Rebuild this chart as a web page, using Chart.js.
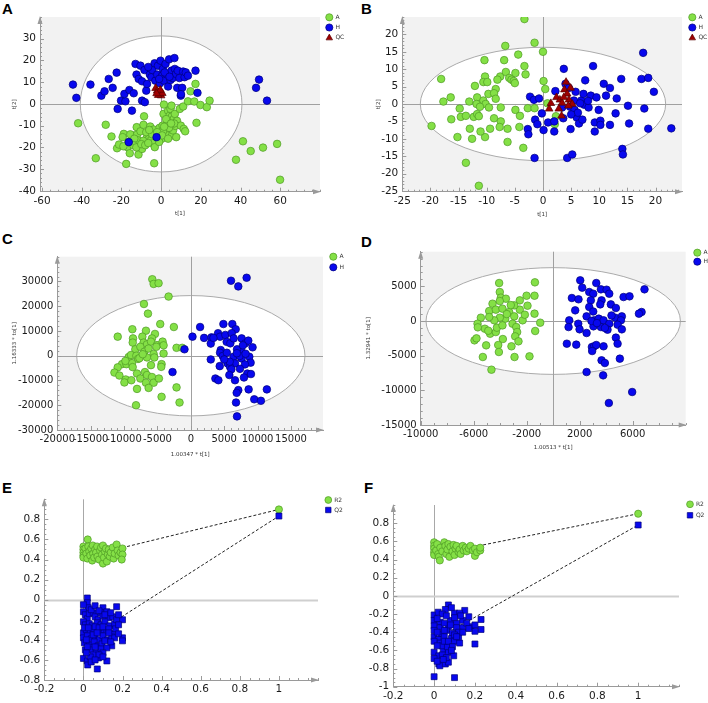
<!DOCTYPE html>
<html><head><meta charset="utf-8">
<script src="https://cdn.jsdelivr.net/npm/chart.js@4.4.1/dist/chart.umd.min.js"></script>
<style>
html,body{margin:0;padding:0;background:#fff}
body{position:relative;width:708px;height:703px;overflow:hidden}
.letter{position:absolute;font:bold 15px "Liberation Sans",Arial,sans-serif;line-height:15px;color:#000}
canvas{position:absolute}
</style></head><body>
<div class="letter" style="left:2px;top:1px">A</div>
<div class="letter" style="left:361px;top:1px">B</div>
<div class="letter" style="left:2px;top:231px">C</div>
<div class="letter" style="left:361px;top:234px">D</div>
<div class="letter" style="left:2px;top:480px">E</div>
<div class="letter" style="left:364px;top:480px">F</div>
<canvas id="cA" width="354" height="222" style="left:0;top:0"></canvas>
<canvas id="cB" width="354" height="222" style="left:354px;top:0"></canvas>
<canvas id="cC" width="354" height="238" style="left:0;top:222px"></canvas>
<canvas id="cD" width="354" height="238" style="left:354px;top:222px"></canvas>
<canvas id="cE" width="354" height="243" style="left:0;top:460px"></canvas>
<canvas id="cF" width="354" height="243" style="left:354px;top:460px"></canvas>
<script>
// ---------- Panel A : PCA scores (A, H, QC) ----------
const xTicksA = [-60,-40,-20,0,20,40,60];
const yTicksA = [-40,-30,-20,-10,0,10,20,30];
const ellipseA = [40.7, 31.3];
const scoresA_A = [[-41.8,-8.9],[-32.9,-25],[-27.9,-9.6],[-25,-15],[-22.2,-20.4],[-21.2,-18.7],[-18.8,-13.8],[-19.4,-15.3],[-17.6,-27.6],[-17,-19.9],[-16.5,-17.5],[-15.8,-22.7],[-14.5,-14.5],[-15.5,-14],[-12.3,-10.7],[-12.1,-14.1],[-11.6,-16.8],[-11.4,-23.3],[-10.4,-12.6],[-9.6,-20.7],[-8.9,-9.6],[-8.6,-5.7],[-7.1,-15.3],[-6.1,-16],[-5.5,-10.4],[-5,-16.5],[-4.2,-18.1],[-3.7,-11.8],[-3.5,-27.3],[-3.2,-19.9],[-2.8,-14.5],[-1.8,-15.7],[-0.8,-11],[-0.3,-13.3],[0.2,-16.1],[0.7,-10],[1.2,-4.6],[1.4,-0.3],[2,-13.3],[2.9,-14.5],[3,-9.9],[3.5,-3.1],[4.2,-5.5],[4.7,-2.3],[5.2,-0.8],[5.4,-5.8],[5.5,-14.5],[6,-12.2],[6.4,-6.9],[6.9,-4.6],[7.2,-10.1],[7.6,-15.3],[8,-7.8],[9.4,-2.3],[9.9,-10],[11.1,-1.2],[11.4,-11.5],[12.1,-12.6],[13.5,1.2],[14.8,5.8],[16.7,1.1],[17.3,9.2],[17.8,-8.7],[19.8,-0.5],[23,-1.5],[24.4,1.5],[37.7,-25.7],[41.2,-17.2],[45.1,-21.7],[51.3,-20.1],[58.4,-18.4],[59.9,-34.9],[-13.5,-16],[-9,-17],[-7.5,-13],[-1,-17.5],[1,-12.5],[4,-11],[-19,-19.5],[2.5,-7],[6.5,-9],[-14,-19],[-12.5,-20],[-10,-18.5],[-8,-19],[-6.5,-18],[-4.5,-14],[-2,-13],[0.5,-14.5],[3.5,-16],[5,-9],[1.5,-10.5],[-6,-12]];
const scoresA_H = [[-44.4,8.9],[-42.7,2.8],[-35.6,8.9],[-30.1,3.8],[-28.5,5.8],[-26.4,11.5],[-24.4,7.4],[-22.4,14.4],[-21.9,-2.3],[-20.2,1.5],[-18,1.2],[-18.5,4.6],[-16.3,-17.6],[-16,6.4],[-14.7,-3.1],[-13.8,4.9],[-12.9,18.4],[-12.4,13.5],[-11.3,11.5],[-10.4,17.6],[-9.6,10.4],[-9.6,1.5],[-8.4,15.6],[-8.2,0.8],[-7.5,6.1],[-7.1,9.2],[-5.7,13.5],[-4.9,12.3],[-4.4,15.6],[-3.3,18.7],[-2.3,-15.3],[-2.9,10.7],[-2,13.5],[-1.6,17.6],[-0.6,9.5],[-0.3,19.9],[0.5,13],[0.9,16.1],[1.4,10.7],[2.2,18.4],[3,13.5],[3.5,8],[4,20.5],[4.7,11],[5.2,15.3],[5.9,11.9],[6.7,21.1],[6.9,16.1],[7.5,13.8],[8.1,7.4],[8.4,15.3],[9.2,11.9],[9.9,3.8],[10.6,7.4],[11.1,14.9],[11.8,12.3],[12.4,14.5],[13.5,13],[17.3,15.3],[18.3,5.1],[47.8,7.4],[49.3,11.2],[53.3,1.5],[-6.5,17],[1.8,14.5],[-1,11.5],[4.2,12.5],[10,4.5]];
const scoresA_QC = [[-2.8,7.2],[-2,6],[-1.2,5.3],[-0.5,4.6],[0,3.8],[-1.5,4],[0.6,4.9],[-0.4,6.4],[-2.3,4.8]];

// ---------- Panel B : PCA scores (A, H, QC) ----------
const xTicksB = [-25,-20,-15,-10,-5,0,5,10,15,20];
const yTicksB = [-25,-20,-15,-10,-5,0,5,10,15,20];
const ellipseB = [21.8, 16.3];
const scoresB_A = [[-3.3,24.4],[-6.7,16.7],[-1.5,17.6],[-4.4,14.2],[0,15],[-10.4,12.6],[-6.9,12.6],[-3.3,10.9],[-3.1,8.5],[-18.1,7.2],[-10.3,7.9],[-7.6,7.9],[-6.6,9.2],[-4.9,8.9],[-6,7.5],[-5.6,7],[-5.2,6.6],[-5,6],[-10.6,6.3],[-9.9,6.3],[-8.1,7],[-8.4,4.3],[-12.1,5.2],[-16.4,1.9],[-17.7,0.7],[-13.1,0.7],[-11.7,1.9],[-10.6,1],[-10.2,0],[-9.7,2.9],[-8.7,3.1],[-8.4,1.5],[-11.8,0],[-11.2,-0.8],[-9.6,-1],[-7.5,-1],[-14.8,-1.3],[-14.6,-3.7],[-13.7,-3.4],[-12.3,-3.7],[-11.7,-2.9],[-11.4,-3.5],[-16.3,-4.4],[-8.7,-4.1],[-7.5,-5],[-7.7,-6.6],[-4.2,-6.6],[-13,-7.1],[-9.4,-7.1],[-6.3,-7.1],[-19.8,-6.3],[-15.2,-9.5],[-12.6,-10],[-10.3,-9.5],[-11.1,-7.9],[-6.3,-10.9],[-3.5,-12.6],[-13.7,-16.9],[-11.4,-23.5],[-4.9,-1.7],[-4.1,-3.4],[-2.7,-1.2],[-1.5,-1.2],[0.1,6.6],[0.4,4.3],[0.8,0.2],[2.1,-5.8],[2.3,-3.5]];
const scoresB_H = [[-2.3,2.1],[-1.6,1.2],[-0.7,1.6],[-0.2,-2.7],[-1.4,-4.5],[-2.7,-7.2],[-2.6,-8.7],[-1.5,-15.5],[-1,-5.8],[0.1,-7.5],[0.9,-5.3],[2,-7.9],[2,-5],[2.2,3.7],[3.7,10.1],[3.4,-1],[3.6,-4.1],[4.3,-15.5],[5.2,-14.5],[4.9,-7.2],[4,5.8],[4.6,4.6],[4.8,-0.8],[5.5,1],[5.6,-1.7],[6,-3.9],[6.4,-5.6],[6.8,1],[7.2,2.9],[7.3,-0.2],[7.5,6.8],[8.1,-1],[8.5,2.4],[8.9,10.9],[9.2,-5.3],[9.2,-7.9],[9.5,1.9],[9.9,-1.7],[10.2,-4.8],[10.2,-6],[10.8,5.8],[11.2,2.4],[11.9,4.6],[11.9,-6],[12.9,-2.7],[13.1,1.6],[13.9,7.2],[14.1,-12.9],[14.2,-14.5],[15.1,-0.5],[15.3,-5.6],[17.5,7.2],[17.8,14.7],[18,-1.3],[18.7,7.5],[18.7,-7.1],[19.7,3.5],[22.8,-7],[6.2,-2.5],[7,-4.5],[5.8,3.5],[6.6,0.2],[8,0.9],[5,-3]];
const scoresB_QC = [[1.1,-1.4],[1.4,0.2],[2.4,1.9],[2.8,-1.4],[3.3,-3.4],[3,1.2],[3.4,0.3],[3.8,4.1],[4.1,6.3],[4.3,2.9],[4.6,1.2],[4.9,4.6],[5.2,0],[3.7,1.9],[4.5,-0.5]];

// ---------- Panel C : OPLS-DA scores (A, H) ----------
const xTicksC = [-20000,-15000,-10000,-5000,0,5000,10000,15000];
const yTicksC = [-30000,-20000,-10000,0,10000,20000,30000];
const ellipseC = [17100, 24300];
const scoresC_A = [[-5770,30900],[-5570,29000],[-4830,29300],[-3330,23900],[-7020,20900],[-6420,17000],[-10950,7700],[-8760,10700],[-6720,10100],[-4580,12800],[-2540,11600],[-5370,8800],[-5820,7000],[-7260,7700],[-8660,7000],[-8700,5300],[-7070,5300],[-6570,4600],[-5970,5700],[-5070,4300],[-4230,5700],[-4080,4200],[-5170,3600],[-8310,2600],[-7560,3600],[-6970,1600],[-6320,2900],[-5570,700],[-9300,-500],[-8960,300],[-8160,0],[-7910,-1300],[-6570,-700],[-5470,-700],[-4080,900],[-2140,3200],[-1290,3200],[-10300,-3400],[-9650,-3400],[-8810,-3000],[-8710,-4600],[-10950,-4700],[-11440,-6800],[-10700,-8000],[-9750,-9600],[-9950,-10800],[-8910,-9900],[-8060,-7200],[-7560,-9200],[-6870,-6600],[-6570,-7800],[-5970,-3800],[-5820,-8600],[-6720,-10900],[-5570,-10900],[-4780,-9200],[-4380,-3400],[-4430,-4500],[-8060,-13400],[-6320,-13000],[-4380,-16600],[-2140,-12800],[-1690,-18900],[-8210,-20000],[-7700,-1000],[-7200,600],[-9800,-2100]];
const scoresC_H = [[6020,30300],[7110,28000],[8360,31500],[1390,11600],[250,7700],[-950,2600],[-2740,-6600],[1990,7200],[3090,7400],[2990,4900],[2990,-1500],[3680,-9200],[4130,-9900],[4080,9100],[4380,7700],[4880,12800],[5170,8400],[6220,12800],[6720,10700],[6120,9100],[5370,5600],[4480,2300],[4380,1200],[4330,-4200],[5520,-3100],[5920,5000],[6420,7000],[7610,7000],[8160,5000],[8610,6100],[9250,3400],[7510,2300],[6920,2600],[6420,-400],[7610,-1100],[8760,-400],[8960,-2800],[8110,-3500],[6620,-3100],[5870,-4500],[6070,-5500],[7360,-5300],[8460,-7200],[9010,-7400],[5770,-7800],[6620,-9900],[7960,-8800],[8660,-13600],[7110,-13900],[6870,-15000],[9500,-17600],[10500,-18200],[11390,-13600],[6770,-18900],[6920,-24500],[5820,-2400],[4780,-100],[3390,7200],[7310,-100],[5400,1200],[7800,4200],[6900,1000],[8200,800],[5000,-1500]];

// ---------- Panel D : OPLS-DA scores (A, H) ----------
const xTicksD = [-10000,-6000,-2000,2000,6000];
const yTicksD = [-15000,-10000,-5000,0,5000];
const ellipseD = [9600, 7700];
const scoresD_A = [[-4080,5480],[-1380,5580],[-4030,4180],[-3950,3370],[-3570,3220],[-4580,2500],[-4030,2880],[-2520,2980],[-2010,3650],[-1410,3650],[-1940,2210],[-2520,1640],[-2940,2260],[-4830,1440],[-4330,1640],[-3830,1780],[-3320,1300],[-2940,670],[-3620,340],[-4030,480],[-4450,100],[-4830,580],[-5460,480],[-5710,-390],[-5160,-1110],[-4760,-1830],[-4330,-1590],[-4250,-960],[-3830,-630],[-3070,-390],[-2310,100],[-2140,910],[-1410,1060],[-980,-240],[-1360,-1440],[-2790,-870],[-2720,-1590],[-2870,-2210],[-3800,-2600],[-2620,-2930],[-3150,-3650],[-4150,-3460],[-4100,-4470],[-5940,-2790],[-5790,-2500],[-5060,-3510],[-5310,-5190],[-2920,-5190],[-1790,-5100],[-4660,-7020],[-5690,-910],[-4900,-1400],[-3500,1000],[-3200,2300]];
const scoresD_H = [[2040,5870],[3250,5480],[2190,4810],[1410,3320],[1910,3130],[2720,4180],[3020,3940],[3600,4570],[4030,4520],[4230,3940],[3650,2980],[3550,2400],[2840,2980],[4350,2400],[4730,1880],[5310,3460],[5760,3560],[6890,4570],[6670,1300],[6470,1060],[1660,1540],[2720,2020],[3020,1370],[2520,670],[3090,100],[3440,340],[3800,100],[4230,-390],[4680,480],[5180,670],[5110,100],[4860,-530],[5180,-1200],[4100,-1250],[3600,-870],[3040,-770],[2890,0],[1210,100],[1160,-870],[1890,-390],[1990,-1200],[2520,-1730],[4730,-2400],[4860,-3270],[1030,-3270],[1740,-3410],[2920,-3750],[3090,-3650],[3250,-3460],[3800,-3650],[2940,-4330],[3650,-5670],[3900,-6060],[5030,-5430],[2520,-7360],[3770,-7840],[5960,-10240],[4200,-11830],[3900,-1000],[4400,800],[3300,-300]];

// ---------- Panel E : permutation test (R2, Q2) ----------
const xTicksE = [-0.2,0,0.2,0.4,0.6,0.8,1];
const yTicksE = [-0.8,-0.6,-0.4,-0.2,0,0.2,0.4,0.6,0.8];
const permE_R2 = [[0.022,0.60],[0,0.53],[0,0.50],[0,0.47],[0,0.44],[0,0.42],[0.01,0.51],[0.015,0.46],[0.02,0.41],[0.025,0.53],[0.03,0.48],[0.035,0.44],[0.04,0.51],[0.045,0.39],[0.048,0.54],[0.05,0.46],[0.055,0.42],[0.06,0.50],[0.065,0.47],[0.07,0.53],[0.072,0.43],[0.08,0.40],[0.085,0.49],[0.09,0.52],[0.095,0.45],[0.1,0.54],[0.1,0.36],[0.105,0.42],[0.11,0.48],[0.115,0.51],[0.12,0.38],[0.125,0.45],[0.13,0.50],[0.135,0.43],[0.14,0.47],[0.15,0.52],[0.155,0.41],[0.16,0.46],[0.17,0.55],[0.175,0.49],[0.18,0.44],[0.19,0.47],[0.2,0.51],[0.2,0.45],[0.196,0.40],[1,0.899]];
const permE_Q2 = [[0.02,0.017],[0.02,-0.03],[0.025,-0.08],[0.1,-0.08],[0.17,-0.07],[0,-0.12],[0.01,-0.15],[0.02,-0.19],[0.03,-0.14],[0.05,-0.13],[0.06,-0.17],[0.075,-0.2],[0.09,-0.13],[0.1,-0.16],[0.12,-0.12],[0.13,-0.18],[0.15,-0.17],[0.2,-0.2],[0,-0.22],[0.01,-0.25],[0.03,-0.24],[0.045,-0.26],[0.07,-0.23],[0.09,-0.25],[0.11,-0.22],[0.135,-0.26],[0.16,-0.24],[0.17,-0.2],[0,-0.33],[0.015,-0.3],[0.035,-0.33],[0.05,-0.29],[0.085,-0.31],[0.105,-0.3],[0.12,-0.32],[0.15,-0.34],[0.165,-0.29],[0,-0.38],[0.02,-0.36],[0.04,-0.39],[0.06,-0.37],[0.08,-0.4],[0.1,-0.36],[0.125,-0.4],[0.145,-0.37],[0.2,-0.38],[0.2,-0.41],[0.005,-0.43],[0.03,-0.45],[0.055,-0.42],[0.075,-0.46],[0.095,-0.44],[0.145,-0.46],[0.01,-0.5],[0.04,-0.5],[0.065,-0.53],[0.09,-0.49],[0.12,-0.48],[0,-0.585],[0.02,-0.61],[0.022,-0.65],[0.077,-0.58],[0.12,-0.61],[0.071,-0.69],[0.05,-0.55],[0.035,-0.57],[0,-0.05],[0.04,-0.1],[0.06,-0.06],[0.08,-0.11],[0.11,-0.15],[0.14,-0.13],[0.18,-0.15],[0.005,-0.28],[0.025,-0.28],[0.06,-0.27],[0.08,-0.28],[0.1,-0.27],[0.13,-0.29],[0.18,-0.25],[0.015,-0.4],[0.05,-0.35],[0.07,-0.33],[0.11,-0.41],[0.16,-0.38],[0.18,-0.34],[0.02,-0.47],[0.06,-0.47],[0.1,-0.53],[0.08,-0.55],[0.14,-0.42],[0.015,-0.53],[0.04,-0.62],[0.1,-0.57],[0.06,-0.6],[0.13,-0.33],[1,0.833]];
const regE_R2 = [[0,0.423],[1,0.899]];
const regE_Q2 = [[0,-0.415],[1,0.833]];

// ---------- Panel F : permutation test (R2, Q2) ----------
const xTicksF = [-0.2,0,0.2,0.4,0.6,0.8,1];
const yTicksF = [-1,-0.8,-0.6,-0.4,-0.2,0,0.2,0.4,0.6,0.8];
const permF_R2 = [[0,0.59],[0,0.55],[0,0.52],[0,0.48],[0,0.45],[0.01,0.50],[0.015,0.57],[0.02,0.46],[0.023,0.43],[0.028,0.39],[0.03,0.53],[0.04,0.49],[0.05,0.59],[0.055,0.55],[0.06,0.46],[0.065,0.51],[0.07,0.57],[0.075,0.43],[0.08,0.54],[0.09,0.49],[0.095,0.56],[0.1,0.45],[0.105,0.52],[0.11,0.55],[0.12,0.48],[0.125,0.51],[0.13,0.46],[0.14,0.55],[0.145,0.50],[0.155,0.53],[0.16,0.49],[0.17,0.52],[0.178,0.55],[0.19,0.50],[0.2,0.44],[0.2,0.52],[0.21,0.48],[0.226,0.50],[0.226,0.53],[1,0.904]];
const permF_Q2 = [[0.07,-0.1],[0.055,-0.15],[0.15,-0.16],[0,-0.21],[0.02,-0.18],[0.1,-0.19],[0.125,-0.19],[0.17,-0.23],[0.23,-0.26],[0,-0.27],[0.03,-0.29],[0.08,-0.27],[0.11,-0.3],[0.14,-0.27],[0.18,-0.34],[0.23,-0.37],[0.2,-0.39],[0,-0.33],[0.03,-0.35],[0.07,-0.34],[0.11,-0.35],[0.14,-0.35],[0,-0.38],[0.035,-0.42],[0.06,-0.38],[0.09,-0.41],[0.12,-0.4],[0,-0.45],[0.02,-0.48],[0.05,-0.45],[0.085,-0.47],[0.1,-0.43],[0,-0.5],[0.03,-0.52],[0.1,-0.5],[0.125,-0.52],[0.2,-0.53],[0,-0.62],[0.023,-0.66],[0.045,-0.59],[0.07,-0.62],[0.096,-0.66],[0,-0.69],[0.023,-0.75],[0.028,-0.77],[0.055,-0.75],[0.07,-0.73],[0.04,-0.55],[0.065,-0.56],[0.04,-0.2],[0.085,-0.13],[0.06,-0.22],[0.13,-0.22],[0.015,-0.25],[0.05,-0.3],[0.1,-0.24],[0.16,-0.3],[0.2,-0.32],[0.015,-0.4],[0.05,-0.38],[0.08,-0.32],[0.12,-0.45],[0.14,-0.4],[0.17,-0.36],[0.015,-0.55],[0.05,-0.5],[0.07,-0.5],[0.09,-0.56],[0.04,-0.65],[0.06,-0.68],[0.085,-0.6],[0.015,-0.72],[0.045,-0.7],[0.11,-0.45],[0,-0.89],[0.1,-0.9],[1,0.78]];
const regF_R2 = [[0,0.452],[1,0.904]];
const regF_Q2 = [[0,-0.489],[1,0.78]];

// ---------- styling & helpers ----------
const FONT = '"DejaVu Sans", Verdana, sans-serif';
const GREEN = {bg:'#84e046', bd:'#4f9a25'};
const BLUE  = {bg:'#0808ee', bd:'#00007a'};
const RED   = {bg:'#9e0000', bd:'#5a0000'};
const pts = a => a.map(p => ({x:p[0], y:p[1]}));
const fmt = v => String(Math.round(v*1000)/1000);

function group(label, arr, c, style, r, order){
  return {label, data:pts(arr), pointStyle:style, pointRadius:r, backgroundColor:c.bg, borderColor:c.bd,
          borderWidth:0.7, order, legend:true};
}
function reg(arr){
  return {label:'', data:pts(arr), showLine:true, borderColor:'#222', borderWidth:1, borderDash:[3,2],
          pointRadius:0, order:10, legend:false};
}

function marker(ctx, style, x, y, r, bg, bd){
  ctx.beginPath();
  if(style==='triangle'){ctx.moveTo(x,y-r);ctx.lineTo(x+r*0.9,y+r*0.6);ctx.lineTo(x-r*0.9,y+r*0.6);ctx.closePath();}
  else if(style==='rect'){const s=r*0.8;ctx.rect(x-s,y-s,2*s,2*s);}
  else ctx.arc(x,y,r,0,Math.PI*2);
  ctx.fillStyle=bg;ctx.fill();ctx.lineWidth=0.7;ctx.strokeStyle=bd;ctx.stroke();
}

const deco = {
  id:'deco',
  beforeDraw(chart,args,o){
    const {ctx,chartArea:a,scales:{x,y}} = chart;
    ctx.save();
    if(o.bg){ctx.fillStyle=o.bg;ctx.fillRect(a.left,a.top,a.right-a.left,a.bottom-a.top);}
    if(o.ellipse){
      const cx=x.getPixelForValue(0), cy=y.getPixelForValue(0);
      const rx=Math.abs(x.getPixelForValue(o.ellipse[0])-cx), ry=Math.abs(y.getPixelForValue(o.ellipse[1])-cy);
      ctx.beginPath();ctx.ellipse(cx,cy,rx,ry,0,0,Math.PI*2);
      ctx.fillStyle='#fff';ctx.fill();ctx.lineWidth=1;ctx.strokeStyle='#ababab';ctx.stroke();
    }
    ctx.restore();
  },
  beforeDatasetsDraw(chart,args,o){
    const {ctx,chartArea:a,scales:{x,y}} = chart;
    ctx.save();
    const x0=Math.round(x.getPixelForValue(0))+0.5, y0=Math.round(y.getPixelForValue(0))+0.5;
    ctx.strokeStyle=o.zeroV;ctx.lineWidth=1;
    ctx.beginPath();ctx.moveTo(x0,a.top);ctx.lineTo(x0,a.bottom);ctx.stroke();
    ctx.strokeStyle=o.zeroH;ctx.lineWidth=o.zeroHW||1;
    ctx.beginPath();ctx.moveTo(a.left,y0);ctx.lineTo(a.right,y0);ctx.stroke();
    // tick marks on the axis lines (major + minor)
    ctx.strokeStyle='#9a9a9a';ctx.lineWidth=1;
    const xm=o.minor[0], ym=o.minor[1];
    for(let v=Math.ceil(x.min/xm)*xm; v<=x.max+1e-9; v+=xm){
      const p=Math.round(x.getPixelForValue(v))+0.5;
      const major=x.ticks.some(t=>Math.abs(t.value-v)<xm/10);
      ctx.beginPath();ctx.moveTo(p,a.bottom);ctx.lineTo(p,a.bottom-(major?4:2));ctx.stroke();
    }
    for(let v=Math.ceil(y.min/ym)*ym; v<=y.max+1e-9; v+=ym){
      const p=Math.round(y.getPixelForValue(v))+0.5;
      const major=y.ticks.some(t=>Math.abs(t.value-v)<ym/10);
      ctx.beginPath();ctx.moveTo(a.left,p);ctx.lineTo(a.left+(major?4:2),p);ctx.stroke();
    }
    // arrow heads
    ctx.fillStyle='#9a9a9a';
    ctx.beginPath();ctx.moveTo(a.left,a.top-1);ctx.lineTo(a.left-2.5,a.top+7);ctx.lineTo(a.left+2.5,a.top+7);ctx.closePath();ctx.fill();
    ctx.beginPath();ctx.moveTo(a.right+1,a.bottom);ctx.lineTo(a.right-7,a.bottom-2.5);ctx.lineTo(a.right-7,a.bottom+2.5);ctx.closePath();ctx.fill();
    ctx.restore();
  },
  afterDraw(chart,args,o){
    const L=o.legend; if(!L) return;
    const ctx=chart.ctx; ctx.save();
    let i=0;
    chart.data.datasets.forEach(ds=>{
      if(!ds.legend) return;
      const cy=L.y+i*L.dy; i++;
      marker(ctx, ds.pointStyle, L.x, cy, L.r, ds.backgroundColor, ds.borderColor);
      ctx.fillStyle='#333';ctx.font='6px '+FONT;ctx.textBaseline='middle';ctx.textAlign='left';
      ctx.fillText(ds.label, L.x+L.r+2.5, cy);
    });
    ctx.restore();
  }
};

function makePanel(p){
  const W=p.w, H=p.h, [pl,pt,pr,pb]=p.plot;
  const tickFont={family:FONT,size:p.fs};
  const titleFont={family:FONT,size:5.5};
  new Chart(document.getElementById(p.id),{
    type:'scatter',
    data:{datasets:p.sets},
    plugins:[deco],
    options:{
      responsive:false, animation:false, events:[],
      layout:{padding:{left:p.padL,top:pt,right:W-pr,bottom:p.padB}},
      plugins:{legend:{display:false},tooltip:{enabled:false},
        deco:{bg:p.bg,ellipse:p.ellipse,zeroV:p.zeroV,zeroH:p.zeroH,zeroHW:p.zeroHW,minor:p.minor,legend:p.legend}},
      scales:{
        x:{type:'linear',min:p.x[0],max:p.x[1],
           afterBuildTicks:s=>{s.ticks=p.xt.map(v=>({value:v}));},
           afterFit:s=>{s.height=H-pb-p.padB;},
           grid:{display:false,drawTicks:false},border:{display:true,color:'#9a9a9a',width:1},
           ticks:{autoSkip:false,maxRotation:0,padding:3,color:'#1a1a1a',font:tickFont,callback:fmt},
           title:{display:!!p.xTitle,text:p.xTitle,font:titleFont,color:'#333',padding:0}},
        y:{type:'linear',min:p.y[0],max:p.y[1],
           afterBuildTicks:s=>{s.ticks=p.yt.map(v=>({value:v}));},
           afterFit:s=>{s.width=pl-p.padL;},
           grid:{display:false,drawTicks:false},border:{display:true,color:'#9a9a9a',width:1},
           ticks:{autoSkip:false,padding:4,color:'#1a1a1a',font:tickFont,callback:fmt},
           title:{display:!!p.yTitle,text:p.yTitle,font:titleFont,color:'#333',padding:0}}
      }
    }
  });
}

const BGC='#f2f2f2';
makePanel({id:'cA',w:354,h:222,plot:[40,17,320,191.7],padL:11.4,padB:5.4,fs:10.5,x:[-61,80],y:[-40.4,40],xt:xTicksA,yt:yTicksA,
  xTitle:'t[1]',yTitle:'t[2]',bg:BGC,ellipse:ellipseA,zeroV:'#a0a0a0',zeroH:'#a0a0a0',minor:[4,2],
  legend:{x:329.3,y:17.3,dy:10.2,r:3.6},
  sets:[group('A',scoresA_A,GREEN,'circle',3.8,3),group('H',scoresA_H,BLUE,'circle',3.8,2),group('QC',scoresA_QC,RED,'triangle',4.4,1)]});
makePanel({id:'cB',w:354,h:222,plot:[48.3,17,328,191.7],padL:21.4,padB:4.4,fs:10.5,x:[-25,24.7],y:[-25.2,25],xt:xTicksB,yt:yTicksB,
  xTitle:'t[1]',yTitle:'t[2]',bg:BGC,ellipse:ellipseB,zeroV:'#a0a0a0',zeroH:'#a0a0a0',minor:[1,1],
  legend:{x:338.3,y:17.3,dy:10.2,r:3.6},
  sets:[group('A',scoresB_A,GREEN,'circle',3.8,3),group('H',scoresB_H,BLUE,'circle',3.8,2),group('QC',scoresB_QC,RED,'triangle',4.4,1)]});
makePanel({id:'cC',w:354,h:238,plot:[57.3,34.7,323,208],padL:11.4,padB:2.4,fs:10,x:[-20000,19800],y:[-30000,40000],xt:xTicksC,yt:yTicksC,
  xTitle:'1.00347 * t[1]',yTitle:'1.16333 * to[1]',bg:BGC,ellipse:ellipseC,zeroV:'#a0a0a0',zeroH:'#a0a0a0',minor:[1000,2000],
  legend:{x:333.3,y:34.7,dy:10.6,r:3.6},
  sets:[group('A',scoresC_A,GREEN,'circle',3.8,2),group('H',scoresC_H,BLUE,'circle',3.8,1)]});
makePanel({id:'cD',w:354,h:238,plot:[66.7,29.7,331.7,203],padL:11.4,padB:9.4,fs:10,x:[-10000,10000],y:[-15000,10000],xt:xTicksD,yt:yTicksD,
  xTitle:'1.00513 * t[1]',yTitle:'1.32941 * to[1]',bg:BGC,ellipse:ellipseD,zeroV:'#a0a0a0',zeroH:'#a0a0a0',minor:[1000,1000],
  legend:{x:343.3,y:30.7,dy:9,r:3.6},
  sets:[group('A',scoresD_A,GREEN,'circle',3.8,2),group('H',scoresD_H,BLUE,'circle',3.8,1)]});
makePanel({id:'cE',w:354,h:243,plot:[44.3,39.3,318,220],padL:0,padB:0,fs:10.5,x:[-0.2,1.2],y:[-0.8,1.0],xt:xTicksE,yt:yTicksE,
  bg:null,ellipse:null,zeroV:'#a8a8a8',zeroH:'#cfcfcf',zeroHW:2,minor:[0.05,0.05],
  legend:{x:328.3,y:40,dy:10,r:3.4},
  sets:[group('R2',permE_R2,GREEN,'circle',3.6,2),group('Q2',permE_Q2,BLUE,'rect',4.2,1),reg(regE_R2),reg(regE_Q2)]});
makePanel({id:'cF',w:354,h:243,plot:[39.3,45,325,226.7],padL:0,padB:0,fs:10.5,x:[-0.2,1.2],y:[-1,1.0],xt:xTicksF,yt:yTicksF,
  bg:null,ellipse:null,zeroV:'#a8a8a8',zeroH:'#cfcfcf',zeroHW:2,minor:[0.05,0.05],
  legend:{x:336,y:44.3,dy:11,r:3.4},
  sets:[group('R2',permF_R2,GREEN,'circle',3.6,2),group('Q2',permF_Q2,BLUE,'rect',4.2,1),reg(regF_R2),reg(regF_Q2)]});
</script>
</body></html>
